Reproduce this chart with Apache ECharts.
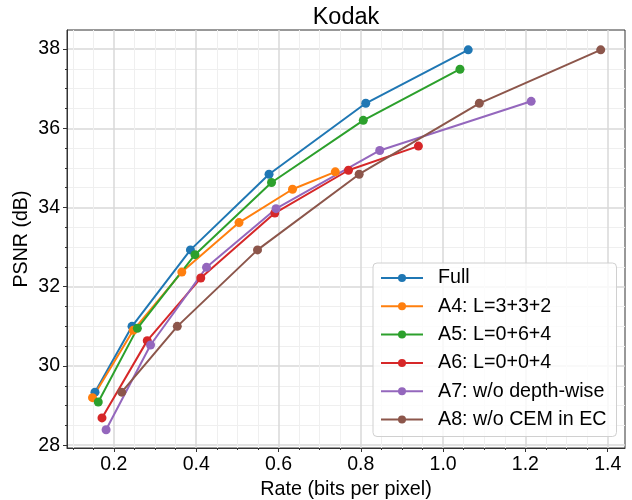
<!DOCTYPE html>
<html lang="en">
<head>
    <meta charset="UTF-8">
    <title>Kodak</title>
    <script src="https://cdn.jsdelivr.net/npm/echarts@6/dist/echarts.min.js"></script>
    <style>
        html, body { margin: 0; padding: 0; background: #fff; }
    </style>
</head>
<body>
<div id="chart" style="width: 632px;height:500px;"></div>
<script>
    // series names, legend order
    var names = ['Full', 'A4: L=3+3+2', 'A5: L=0+6+4', 'A6: L=0+0+4', 'A7: w/o depth-wise', 'A8: w/o CEM in EC'];
    var colors = ['#1f77b4', '#ff7f0e', '#2ca02c', '#d62728', '#9467bd', '#8c564b'];

    // rate (bpp) / PSNR (dB)
    var fullRate = [0.154, 0.244, 0.386, 0.577, 0.812, 1.061];
    var fullPsnr = [29.34, 31.00, 32.93, 34.84, 36.63, 37.98];
    var a4Rate = [0.148, 0.247, 0.365, 0.504, 0.634, 0.738];
    var a4Psnr = [29.20, 30.90, 32.37, 33.62, 34.46, 34.90];
    var a5Rate = [0.162, 0.257, 0.397, 0.583, 0.806, 1.041];
    var a5Psnr = [29.09, 30.95, 32.81, 34.63, 36.20, 37.49];
    var a6Rate = [0.171, 0.281, 0.411, 0.591, 0.770, 0.940];
    var a6Psnr = [28.69, 30.64, 32.22, 33.86, 34.94, 35.55];
    var a7Rate = [0.181, 0.289, 0.425, 0.594, 0.846, 1.214];
    var a7Psnr = [28.39, 30.53, 32.49, 33.97, 35.44, 36.68];
    var a8Rate = [0.219, 0.354, 0.549, 0.796, 1.088, 1.383];
    var a8Psnr = [29.34, 31.00, 32.93, 34.84, 36.63, 37.98];

    // tick positions
    var xTicks = [0.2, 0.4, 0.6, 0.8, 1.0, 1.2, 1.4];
    var xMinorTicks = [0.1, 0.15, 0.25, 0.3, 0.35, 0.45, 0.5, 0.55, 0.65, 0.7, 0.75, 0.85, 0.9, 0.95,
                       1.05, 1.1, 1.15, 1.25, 1.3, 1.35];
    var yTicks = [28, 30, 32, 34, 36, 38];
    var yMinorTicks = [28.5, 29, 29.5, 30.5, 31, 31.5, 32.5, 33, 33.5, 34.5, 35, 35.5, 36.5, 37, 37.5];

    var xMin = 0.086, xMax = 1.442;
    var yMin = 27.93, yMax = 38.48;

    var rates = [fullRate, a4Rate, a5Rate, a6Rate, a7Rate, a8Rate];
    var psnrs = [fullPsnr, a4Psnr, a5Psnr, a6Psnr, a7Psnr, a8Psnr];

    var font = 'Liberation Sans, Arial, sans-serif';

    var series = names.map(function (name, i) {
        return {
            name: name,
            type: 'line',
            xAxisIndex: 1,
            yAxisIndex: 1,
            data: rates[i].map(function (r, j) { return [r, psnrs[i][j]]; }),
            symbol: 'circle',
            symbolSize: 9,
            color: colors[i],
            lineStyle: { width: 2 },
            itemStyle: { color: colors[i] }
        };
    });

    var myChart = echarts.init(document.getElementById('chart'));
    var option = {
        animation: false,
        backgroundColor: '#fff',
        title: {
            text: 'Kodak',
            left: 346,
            top: 6,
            padding: 0,
            textAlign: 'center',
            textStyle: { fontFamily: font, fontSize: 23.5, fontWeight: 'normal', color: '#000' }
        },
        grid: {
            left: 67, right: 7, top: 30, bottom: 52,
            outerBoundsMode: 'none',
            containLabel: false,
            show: true, borderColor: '#333', borderWidth: 1, backgroundColor: 'transparent'
        },
        legend: {
            orient: 'vertical',
            left: 373,
            top: 263,
            data: names,
            selectedMode: false,
            padding: [5, 10, 7, 7],
            itemGap: 8.3,
            itemWidth: 42,
            itemHeight: 10,
            borderColor: '#d0d0d0',
            borderWidth: 1,
            borderRadius: 4,
            backgroundColor: 'rgba(255,255,255,0.8)',
            textStyle: { fontFamily: font, fontSize: 19.7, color: '#000', lineHeight: 20, padding: [0, 0, 0, 10] }
        },
        xAxis: [
            {   // minor grid
                type: 'value', min: xMin, max: xMax, position: 'bottom',
                axisLine: { show: false },
                axisLabel: { show: false },
                axisTick: { show: true, customValues: xMinorTicks, length: 2, lineStyle: { color: '#333' } },
                splitLine: { show: true, lineStyle: { color: '#efefef', width: 1 } }
            },
            {
                type: 'value', min: xMin, max: xMax, position: 'bottom',
                name: 'Rate (bits per pixel)',
                nameLocation: 'middle',
                nameGap: 31,
                nameTextStyle: { fontFamily: font, fontSize: 19.8, color: '#000' },
                axisLine: { show: true, onZero: false, lineStyle: { color: '#333' } },
                axisTick: { show: true, customValues: xTicks, length: 4, lineStyle: { color: '#333' } },
                axisLabel: {
                    customValues: xTicks, margin: 7,
                    fontFamily: font, fontSize: 19.5, color: '#000',
                    formatter: function (v) { return v.toFixed(1); }
                },
                splitLine: { show: true, lineStyle: { color: '#d9d9d9', width: 1.5 } }
            }
        ],
        yAxis: [
            {   // minor grid
                type: 'value', min: yMin, max: yMax, position: 'left',
                axisLine: { show: false },
                axisLabel: { show: false },
                axisTick: { show: true, customValues: yMinorTicks, length: 2, lineStyle: { color: '#333' } },
                splitLine: { show: true, lineStyle: { color: '#efefef', width: 1 } }
            },
            {
                type: 'value', min: yMin, max: yMax, position: 'left',
                name: 'PSNR (dB)',
                nameLocation: 'middle',
                nameGap: 35,
                nameMoveOverlap: false,
                nameTextStyle: { fontFamily: font, fontSize: 19.6, color: '#000' },
                axisLine: { show: true, onZero: false, lineStyle: { color: '#333' } },
                axisTick: { show: true, customValues: yTicks, length: 4, lineStyle: { color: '#333' } },
                axisLabel: {
                    customValues: yTicks, margin: 7,
                    fontFamily: font, fontSize: 19.5, color: '#000'
                },
                splitLine: { show: true, lineStyle: { color: '#d9d9d9', width: 1.5 } }
            }
        ],
        series: series
    };
    myChart.setOption(option);
</script>
</body>
</html>
